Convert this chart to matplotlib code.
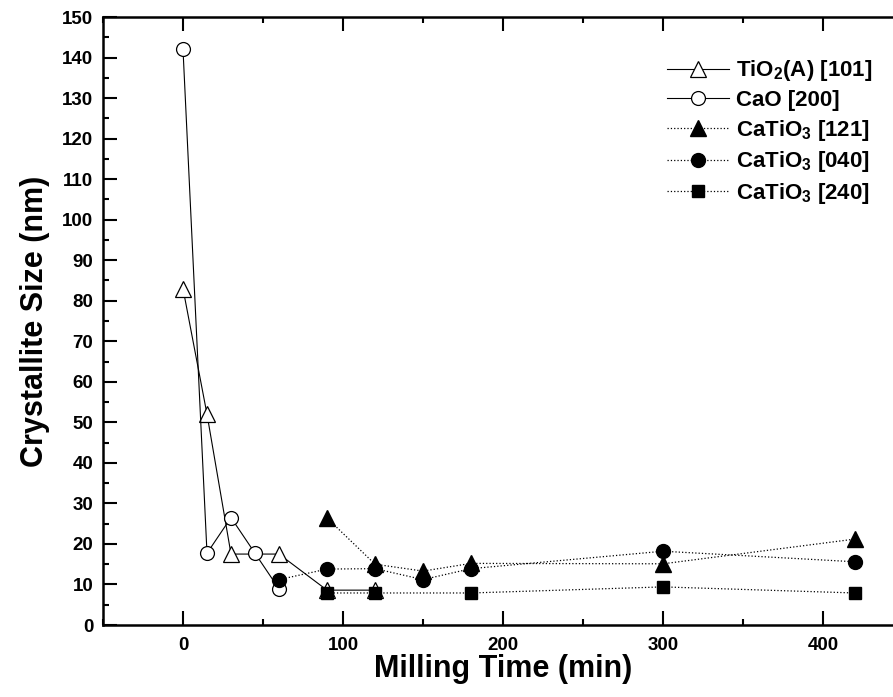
import matplotlib
matplotlib.use('Agg')
import matplotlib.pyplot as plt
from matplotlib.ticker import MultipleLocator

plt.rcParams['font.family'] = ['Liberation Sans', 'DejaVu Sans']
plt.rcParams['font.weight'] = 'bold'
plt.rcParams['mathtext.fontset'] = 'custom'
plt.rcParams['mathtext.rm'] = 'Liberation Sans:bold'
plt.rcParams['mathtext.it'] = 'Liberation Sans:bold'
plt.rcParams['mathtext.bf'] = 'Liberation Sans:bold'

# milling time (min) and crystallite size (nm)
tio2_t = [0, 15, 30, 60, 90, 120]
tio2_s = [83, 52, 17.5, 17.5, 8.6, 8.6]

cao_t = [0, 15, 30, 45, 60]
cao_s = [142, 17.7, 26.5, 17.7, 8.9]

cto121_t = [90, 120, 150, 180, 300, 420]
cto121_s = [26.4, 15.0, 13.3, 15.2, 15.1, 21.2]

cto040_t = [60, 90, 120, 150, 180, 300, 420]
cto040_s = [11.2, 13.8, 13.9, 11.2, 13.9, 18.2, 15.6]

cto240_t = [90, 120, 180, 300, 420]
cto240_s = [7.9, 7.9, 7.9, 9.4, 7.9]

labels = [r'TiO$_2$(A) [101]', 'CaO [200]', r'CaTiO$_3$ [121]',
          r'CaTiO$_3$ [040]', r'CaTiO$_3$ [240]']

fig = plt.figure(figsize=(8.93, 6.97), dpi=100)
ax = fig.add_axes([103 / 893, 72 / 697, 800 / 893, 608 / 697])

ax.plot(tio2_t, tio2_s, '-', color='k', lw=0.8, marker='^', ms=11,
        mfc='white', mec='k', mew=0.9, label=labels[0])
ax.plot(cao_t, cao_s, '-', color='k', lw=0.8, marker='o', ms=10,
        mfc='white', mec='k', mew=0.9, label=labels[1])
ax.plot(cto121_t, cto121_s, ':', color='k', lw=0.9, marker='^', ms=11,
        mfc='k', mec='k', label=labels[2])
ax.plot(cto040_t, cto040_s, ':', color='k', lw=0.9, marker='o', ms=10,
        mfc='k', mec='k', label=labels[3])
ax.plot(cto240_t, cto240_s, ':', color='k', lw=0.9, marker='s', ms=9,
        mfc='k', mec='k', label=labels[4])

ax.set_xlim(-50, 450)
ax.set_ylim(0, 150)
ax.xaxis.set_major_locator(MultipleLocator(100))
ax.xaxis.set_minor_locator(MultipleLocator(50))
ax.yaxis.set_major_locator(MultipleLocator(10))
ax.yaxis.set_minor_locator(MultipleLocator(5))
ax.tick_params(which='both', direction='in', top=True, right=False,
               width=1.5, labelsize=13.5)
ax.tick_params(which='major', length=10)
ax.tick_params(which='minor', length=4)
ax.tick_params(axis='x', pad=9)
ax.tick_params(axis='y', pad=7)
for sp in ax.spines.values():
    sp.set_linewidth(1.8)

ax.set_xlabel('Milling Time (min)', fontsize=22, fontweight='bold', labelpad=0)
ax.set_ylabel('Crystallite Size (nm)', fontsize=22, fontweight='bold', labelpad=9)

leg = ax.legend(loc='upper left', bbox_to_anchor=(0.68, 0.965), frameon=False,
                fontsize=16, handlelength=2.8, handletextpad=0.3,
                labelspacing=0.3)

fig.savefig('out.png', dpi=100)
